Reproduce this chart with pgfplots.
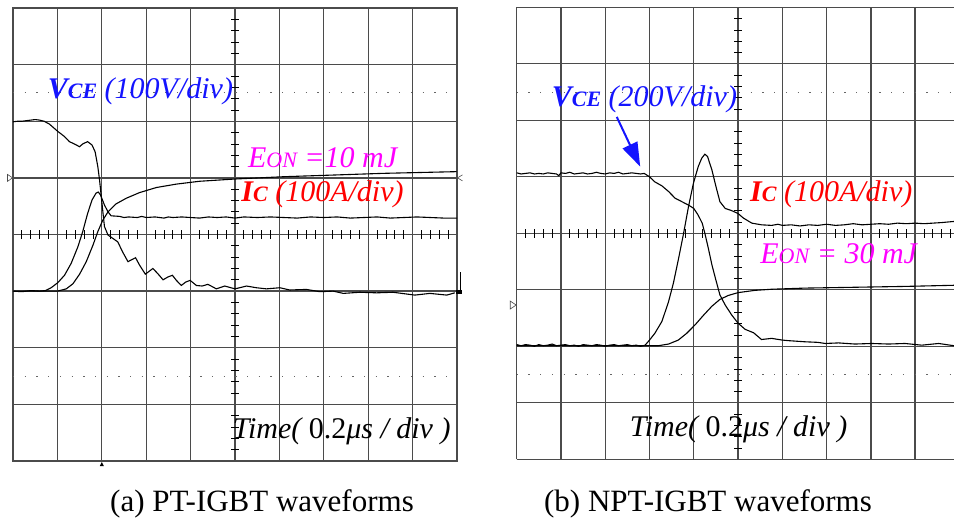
\documentclass[border=0pt]{standalone}
\usepackage{fontspec}
\setmainfont{Liberation Serif}
\usepackage{pgfplots}
\pgfplotsset{compat=1.18}
\usetikzlibrary{arrows.meta}

\definecolor{vblue}{RGB}{20,20,255}
\definecolor{ired}{RGB}{255,0,0}
\definecolor{emag}{RGB}{255,0,255}
\definecolor{gridc}{RGB}{75,75,75}

\newcommand\lbl{\fontsize{30bp}{33bp}\selectfont\itshape}
\newcommand\sm[1]{{\fontsize{22bp}{24bp}\selectfont #1}}

\pgfplotsset{
  scope/.style={
    scale only axis,
    ymin=-4, ymax=4,
    ytick={-4,...,4},
    xticklabels={}, yticklabels={},
    major tick length=0pt,
    grid=major,
    grid style={gridc, line width=1.3bp},
    clip=false,
  },
  trace/.style={black, line width=1.1bp, no markers},
}

\newcommand\centerticks[1]{%
  \pgfplotsinvokeforeach{-4.8,-4.6,-4.4,-4.2,-3.8,-3.6,-3.4,-3.2,-2.8,-2.6,-2.4,-2.2,-1.8,-1.6,-1.4,-1.2,-0.8,-0.6,-0.4,-0.2,0.2,0.4,0.6,0.8,1.2,1.4,1.6,1.8,2.2,2.4,2.6,2.8,3.2,3.4,3.6,3.8,4.2,4.4,4.6,#1}{%
    \draw[black, line width=0.8bp] (axis cs:##1,0) ++(0pt,-4.5bp) -- ++(0pt,9bp);}
  \pgfplotsinvokeforeach{-3.8,-3.6,-3.4,-3.2,-2.8,-2.6,-2.4,-2.2,-1.8,-1.6,-1.4,-1.2,-0.8,-0.6,-0.4,-0.2,0.2,0.4,0.6,0.8,1.2,1.4,1.6,1.8,2.2,2.4,2.6,2.8,3.2,3.4,3.6,3.8}{%
    \draw[black, line width=0.8bp] (axis cs:0,##1) ++(-4bp,0pt) -- ++(8bp,0pt);}
}

\begin{document}
\begin{tikzpicture}
\path[use as bounding box] (0,0) rectangle (954bp,520bp);

% ---------------- (a) PT-IGBT ----------------
\begin{axis}[scope, at={(13bp,59bp)}, anchor=south west,
  width=444bp, height=453bp, xmin=-5, xmax=5, xtick={-5,...,5},
  axis line style={gridc, line width=1.3bp}]
\draw[black!60, line width=1.1bp, dash pattern=on 1.3bp off 10.4bp] (axis cs:-5,2.5) -- (axis cs:5,2.5);
\draw[black!60, line width=1.1bp, dash pattern=on 1.3bp off 10.4bp] (axis cs:-5,-2.5) -- (axis cs:5,-2.5);
\centerticks{4.8}
% VCE
\addplot[trace] coordinates {
(-5,1.99)(-4.9,2.0)(-4.8,2.0)(-4.7,2.01)(-4.6,2.02)(-4.5,2.03)(-4.4,2.02)(-4.3,2.0)
(-4.18,1.95)(-3.99,1.82)(-3.84,1.73)(-3.73,1.64)(-3.62,1.60)(-3.50,1.55)(-3.43,1.60)
(-3.32,1.64)(-3.22,1.58)(-3.15,1.46)(-3.09,1.20)(-3.05,0.96)(-3.02,0.73)(-2.98,0.43)
(-2.94,0.14)(-2.86,-0.01)(-2.75,-0.07)(-2.64,-0.13)(-2.53,-0.31)(-2.41,-0.48)(-2.34,-0.45)
(-2.24,-0.41)(-2.15,-0.54)(-2.02,-0.70)(-1.95,-0.66)(-1.85,-0.60)(-1.74,-0.69)(-1.62,-0.80)
(-1.51,-0.75)(-1.41,-0.72)(-1.32,-0.81)(-1.21,-0.90)(-1.11,-0.84)(-1.01,-0.81)(-0.87,-0.90)
(-0.74,-0.91)(-0.61,-0.88)(-0.42,-0.96)(-0.23,-0.91)(0,-0.96)(0.26,-0.91)(0.48,-0.94)
(0.71,-0.96)(1.01,-0.94)(1.23,-0.98)(1.61,-0.97)(1.91,-1.01)(2.21,-1.00)(2.44,-1.04)
(2.81,-1.02)(3.19,-1.03)(3.56,-1.02)(4.05,-1.07)(4.39,-1.04)(4.77,-1.07)(4.95,-1.03)
};
% Ic
\addplot[trace] coordinates {
(-5,-1.0)(-4.8,-1.01)(-4.6,-0.99)(-4.4,-1.0)(-4.27,-0.99)(-4.14,-0.94)(-3.99,-0.85)
(-3.84,-0.72)(-3.69,-0.51)(-3.54,-0.22)(-3.43,0.05)(-3.32,0.37)(-3.22,0.61)(-3.13,0.73)
(-3.08,0.75)(-3.03,0.70)(-2.94,0.52)(-2.86,0.40)(-2.79,0.33)(-2.6,0.32)(-2.5,0.30)(-2.4,0.31)
(-2.2,0.30)(-2.1,0.32)(-2.0,0.30)(-1.8,0.31)(-1.6,0.29)(-1.5,0.31)(-1.4,0.30)(-1.2,0.31)
(-1.0,0.30)(-0.8,0.29)(-0.6,0.31)(-0.4,0.30)(-0.2,0.31)(0,0.29)(0.2,0.31)(0.5,0.30)(0.8,0.31)
(1.1,0.30)(1.4,0.29)(1.7,0.31)(2.0,0.30)(2.3,0.31)(2.6,0.29)(2.9,0.30)(3.2,0.31)(3.5,0.29)
(3.8,0.30)(4.1,0.31)(4.4,0.30)(4.7,0.29)(5.0,0.29)
};
% Eon
\addplot[trace] coordinates {
(-5,-1.0)(-4.0,-1.0)(-3.80,-0.96)(-3.65,-0.87)(-3.50,-0.70)(-3.35,-0.48)(-3.20,-0.19)
(-3.09,0.05)(-2.98,0.25)(-2.86,0.40)(-2.68,0.54)(-2.45,0.64)(-2.15,0.74)(-1.77,0.83)
(-1.32,0.89)(-0.80,0.94)(0,0.98)(1.08,1.02)(2.21,1.05)(3.34,1.08)(4.99,1.11)
};
% scope markers
\draw[black!70, line width=0.6bp] (axis cs:-5,1) ++(-0.5bp,0pt) -- ++(-5bp,3.5bp) -- ++(0pt,-7bp) -- cycle;
\draw[black!70, line width=0.6bp] (axis cs:5,1) ++(5.5bp,3bp) -- ++(-5bp,-3bp) -- ++(5bp,-3bp);
\fill[black] (axis cs:-3,-4) ++(0pt,-1bp) -- ++(-2bp,-4bp) -- ++(4bp,0pt) -- cycle;
\draw[black, line width=1.6bp] (axis cs:5,-1.02) ++(3.5bp,0pt) -- ++(0pt,20bp);
\fill[black] (axis cs:5,-1.02) ++(-1.5bp,-2bp) rectangle ++(6bp,4bp);
% labels
\node[anchor=base west, inner sep=0, text=vblue] at (axis cs:-4.22,2.41) {\lbl{\bfseries V\sm{CE}} (100V/div)};
\node[anchor=base west, inner sep=0, text=emag] at (axis cs:0.29,1.18) {\lbl E\sm{ON} =10 mJ};
\node[anchor=base west, inner sep=0, text=ired] at (axis cs:0.14,0.58) {\lbl{\bfseries I\sm{C}} (100A/div)};
\node[anchor=base west, inner sep=0, text=black] at (axis cs:-0.05,-3.61) {\lbl Time( {\upshape 0.2}μs / div )};
\end{axis}

% ---------------- (b) NPT-IGBT ----------------
\begin{axis}[scope, at={(516.7bp,60.7bp)}, anchor=south west,
  width=437.3bp, height=452bp, xmin=-5, xmax=4.878, xtick={-5,...,4},
  axis line style={draw=none}]
\draw[black!60, line width=1.1bp, dash pattern=on 1.3bp off 10.4bp] (axis cs:-5,2.5) -- (axis cs:4.878,2.5);
\draw[black!60, line width=1.1bp, dash pattern=on 1.3bp off 10.4bp] (axis cs:-5,-2.5) -- (axis cs:4.878,-2.5);
\centerticks{4.8}
% VCE
\addplot[trace] coordinates {
(-5,1.07)(-4.9,1.05)(-4.8,1.06)(-4.7,1.07)(-4.6,1.05)(-4.5,1.06)(-4.4,1.05)(-4.3,1.07)
(-4.2,1.06)(-4.1,1.05)(-4.05,1.02)(-4.0,1.07)(-3.9,1.06)(-3.8,1.08)(-3.7,1.05)(-3.6,1.06)
(-3.5,1.07)(-3.4,1.05)(-3.3,1.06)(-3.2,1.08)(-3.1,1.06)(-3.0,1.05)(-2.9,1.07)(-2.8,1.06)
(-2.7,1.08)(-2.6,1.05)(-2.5,1.06)(-2.4,1.07)(-2.3,1.06)(-2.2,1.05)(-2.12,1.06)
(-2.0,1.0)(-1.88,0.91)(-1.72,0.84)(-1.57,0.74)(-1.42,0.62)(-1.27,0.56)(-1.12,0.50)
(-1.0,0.44)(-0.90,0.32)(-0.81,0.18)(-0.75,0.0)(-0.67,-0.27)(-0.59,-0.56)(-0.50,-0.83)
(-0.41,-1.09)(-0.29,-1.27)(-0.14,-1.45)(0,-1.59)(0.16,-1.70)(0.35,-1.76)(0.53,-1.88)
(0.76,-1.86)(1.0,-1.89)(1.14,-1.90)(1.51,-1.92)(1.8,-1.93)(1.97,-1.95)(2.27,-1.94)(2.64,-1.96)
(3.02,-1.95)(3.40,-1.96)(3.77,-1.95)(4.15,-1.98)(4.53,-1.95)(4.878,-1.99)
};
% Ic
\addplot[trace] coordinates {
(-5,-1.97)(-4.9,-1.99)(-4.8,-1.97)(-4.7,-1.98)(-4.6,-2.0)(-4.5,-1.97)(-4.4,-1.99)(-4.3,-1.98)
(-4.2,-1.96)(-4.1,-1.99)(-4.0,-1.98)(-3.9,-1.97)(-3.8,-1.99)(-3.7,-1.98)(-3.6,-2.0)(-3.5,-1.97)
(-3.4,-1.98)(-3.3,-1.99)(-3.2,-1.97)(-3.1,-1.98)(-3.0,-2.0)(-2.9,-1.98)(-2.8,-1.97)(-2.7,-1.99)
(-2.6,-1.98)(-2.5,-1.97)(-2.4,-1.99)(-2.3,-1.98)(-2.2,-2.0)(-2.1,-1.98)
(-2.0,-1.89)(-1.88,-1.77)(-1.72,-1.56)(-1.57,-1.21)(-1.46,-0.88)(-1.35,-0.47)(-1.23,0.0)
(-1.12,0.47)(-1.01,0.88)(-0.90,1.18)(-0.82,1.33)(-0.75,1.40)(-0.69,1.36)(-0.59,1.12)
(-0.50,0.83)(-0.41,0.56)(-0.29,0.44)(-0.14,0.40)(0,0.35)(0.12,0.27)(0.31,0.18)(0.53,0.15)
(0.76,0.14)(0.9,0.16)(1.0,0.14)(1.2,0.15)(1.4,0.13)(1.6,0.15)(1.8,0.14)(2.0,0.16)(2.2,0.14)
(2.4,0.15)(2.6,0.17)(2.8,0.15)(3.0,0.16)(3.2,0.17)(3.4,0.16)(3.6,0.18)(3.8,0.17)(4.0,0.18)
(4.2,0.17)(4.4,0.18)(4.6,0.19)(4.878,0.21)
};
% Eon
\addplot[trace] coordinates {
(-5,-1.99)(-1.8,-1.99)(-1.57,-1.96)(-1.35,-1.89)(-1.16,-1.77)(-0.97,-1.62)(-0.78,-1.45)
(-0.59,-1.29)(-0.41,-1.17)(-0.22,-1.10)(0,-1.05)(0.38,-1.01)(0.76,-0.99)(1.51,-0.97)
(2.27,-0.96)(3.02,-0.95)(3.77,-0.94)(4.878,-0.92)
};
\draw[black!70, line width=0.6bp] (axis cs:-5,-1.27) ++(-0.5bp,0pt) -- ++(-6bp,4bp) -- ++(0pt,-8bp) -- cycle;
% labels
\node[anchor=base west, inner sep=0, text=vblue] at (axis cs:-4.21,2.25) {\lbl{\bfseries V\sm{CE}} (200V/div)};
\draw[vblue, line width=2bp, -{Triangle[length=24bp,width=16bp]}] (axis cs:-2.74,2.06) -- (axis cs:-2.21,1.18);
\node[anchor=base west, inner sep=0, text=ired] at (axis cs:0.27,0.57) {\lbl{\bfseries I\sm{C}} (100A/div)};
\node[anchor=base west, inner sep=0, text=emag] at (axis cs:0.5,-0.53) {\lbl E\sm{ON} = 30 mJ};
\node[anchor=base west, inner sep=0, text=black] at (axis cs:-2.45,-3.60) {\lbl Time( {\upshape 0.2}μs / div )};
\end{axis}

% captions
\node[anchor=base, inner sep=0] at (262bp,9bp) {\fontsize{31bp}{34bp}\selectfont (a) PT-IGBT waveforms};
\node[anchor=base, inner sep=0] at (708bp,9bp) {\fontsize{31bp}{34bp}\selectfont (b) NPT-IGBT waveforms};
\end{tikzpicture}
\end{document}
